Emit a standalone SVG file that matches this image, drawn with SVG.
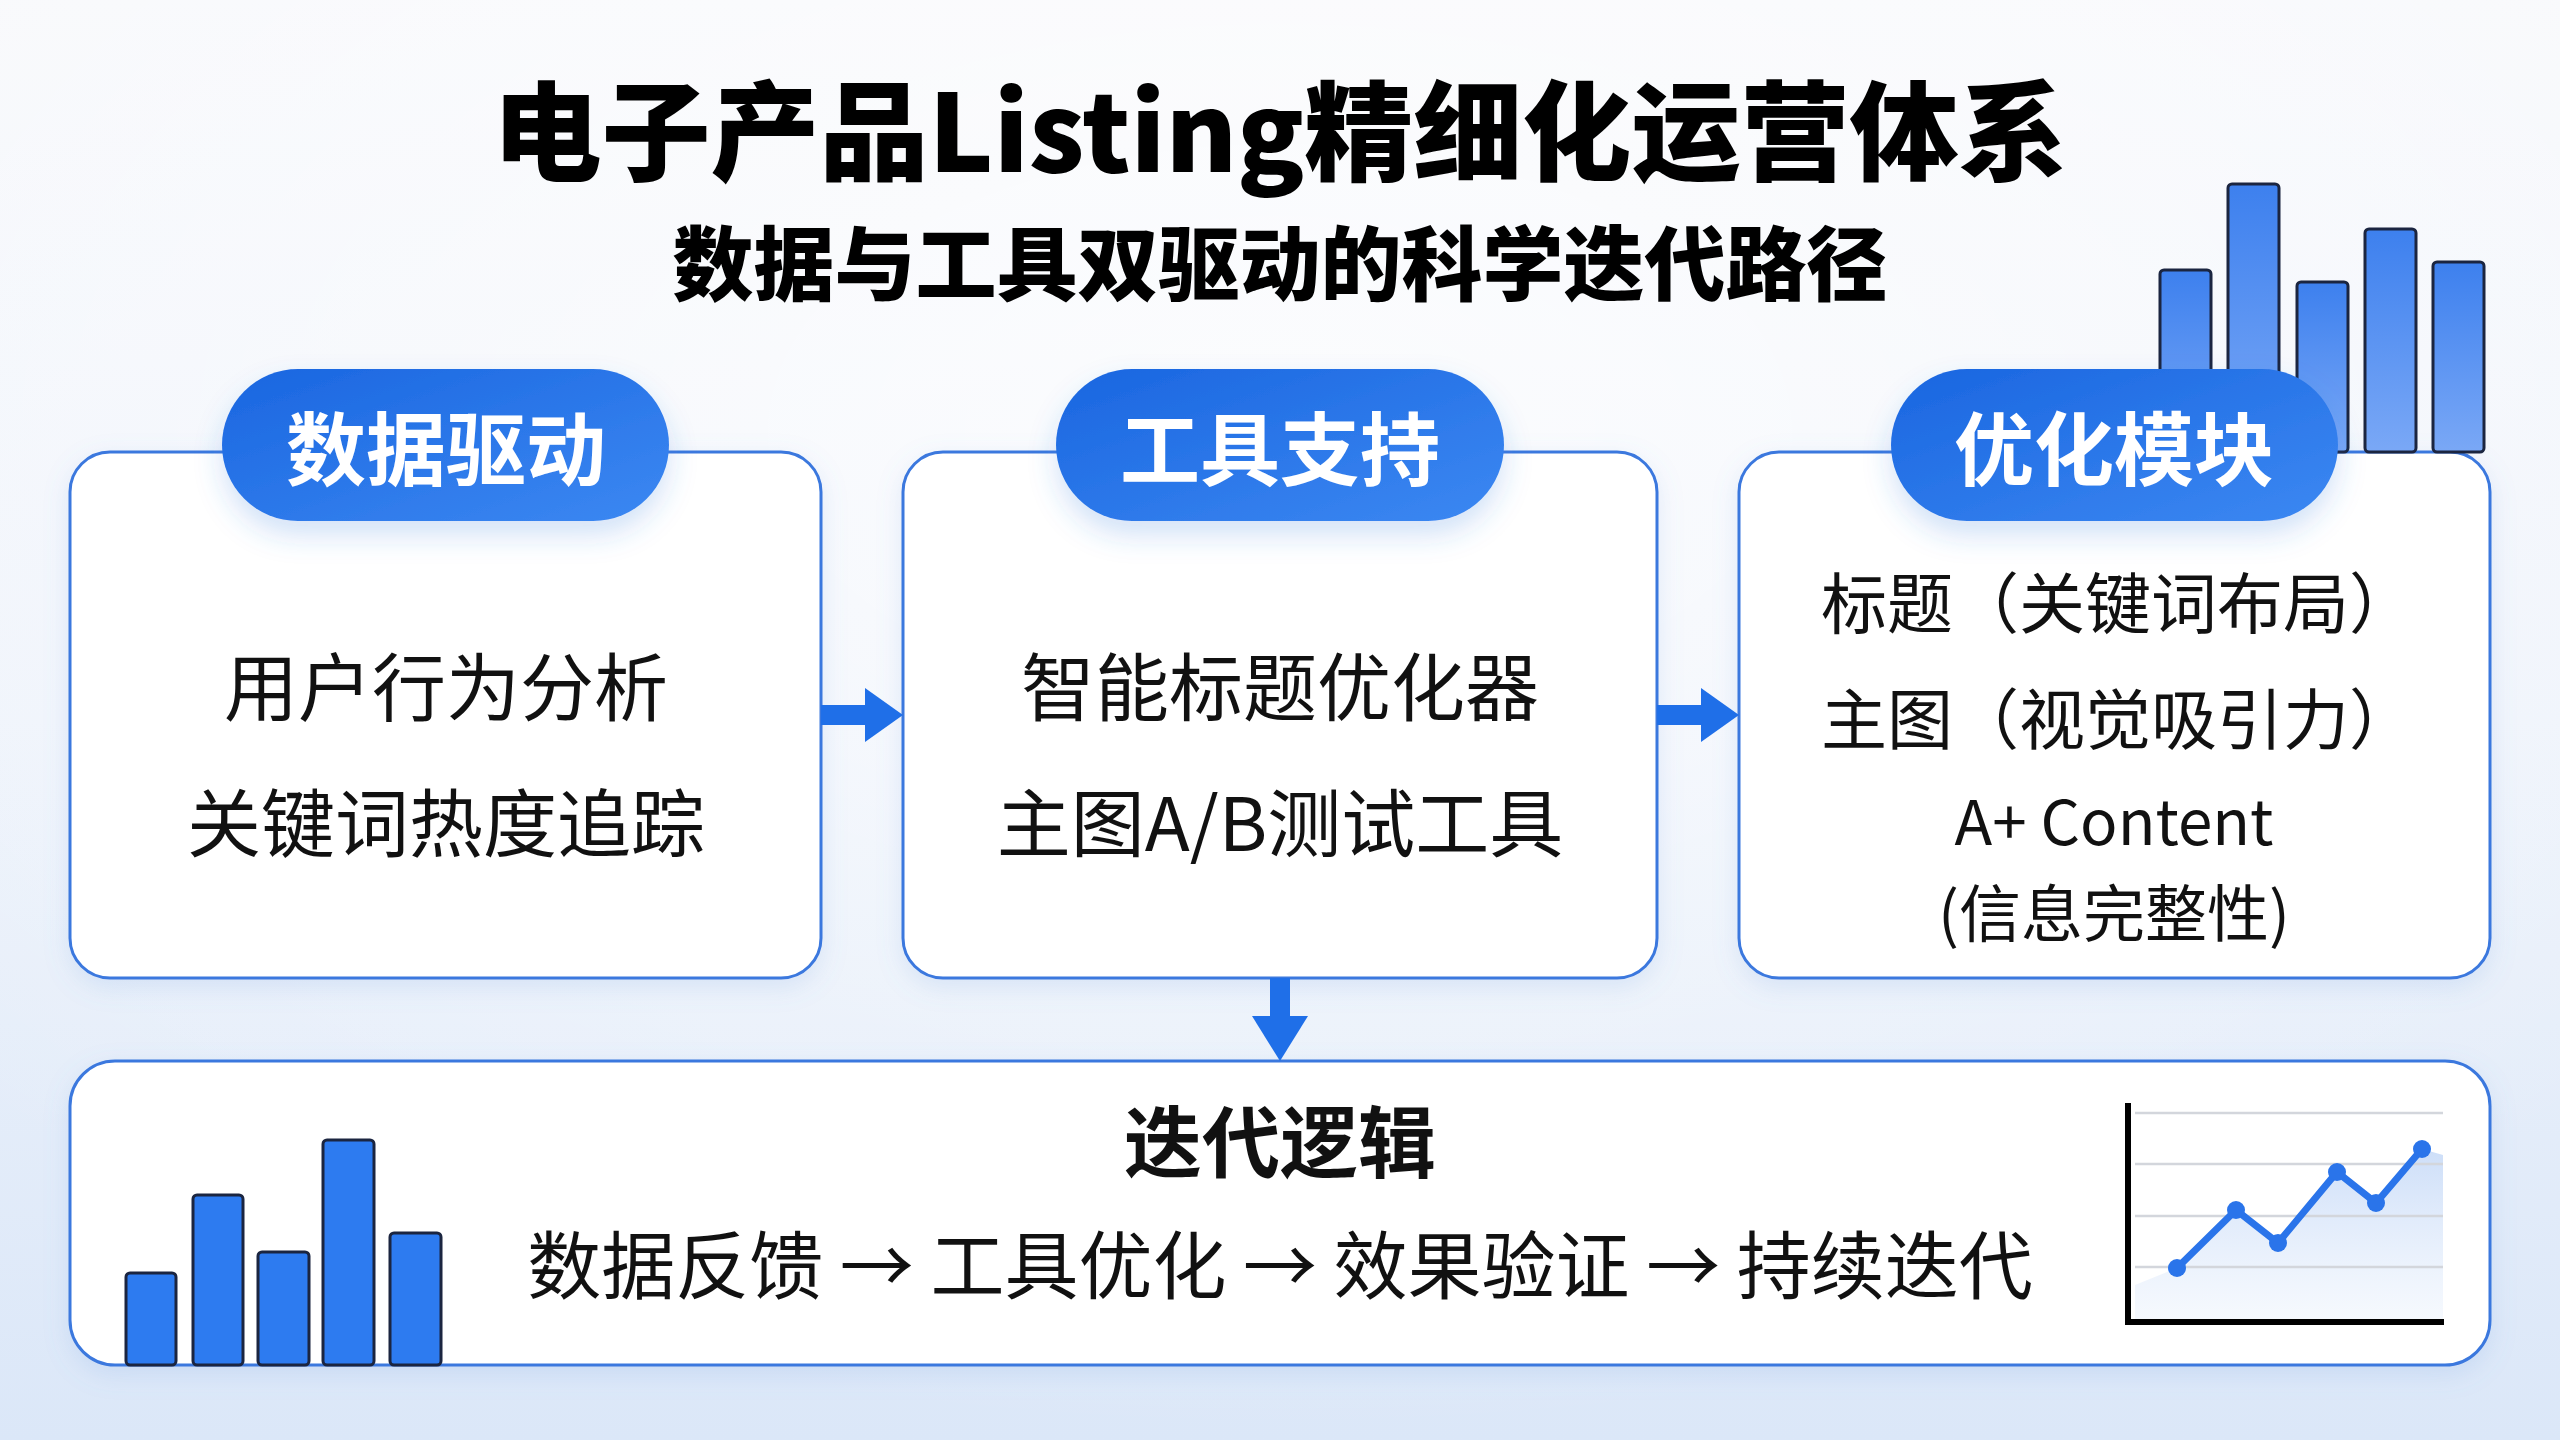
<svg xmlns="http://www.w3.org/2000/svg" width="2560" height="1440" viewBox="0 0 2560 1440">
<defs>
  <linearGradient id="bg" x1="0" y1="0" x2="0" y2="1">
    <stop offset="0" stop-color="#f8f9fc"/>
    <stop offset="0.5" stop-color="#eef3fb"/>
    <stop offset="1" stop-color="#dbe7f8"/>
  </linearGradient>
  <radialGradient id="bgGlow" cx="0.5" cy="0.3" r="0.7">
    <stop offset="0" stop-color="#ffffff" stop-opacity="0.7"/>
    <stop offset="1" stop-color="#ffffff" stop-opacity="0"/>
  </radialGradient>
  <linearGradient id="pillGrad" x1="0" y1="0" x2="1" y2="1">
    <stop offset="0" stop-color="#1a66e0"/>
    <stop offset="1" stop-color="#3c88f2"/>
  </linearGradient>
  <linearGradient id="barGrad" x1="0" y1="0" x2="0" y2="1">
    <stop offset="0" stop-color="#3d80ee"/>
    <stop offset="1" stop-color="#7aa8f6"/>
  </linearGradient>
  <linearGradient id="areaGrad" x1="0" y1="0" x2="0" y2="1">
    <stop offset="0" stop-color="#bcd3f6" stop-opacity="0.75"/>
    <stop offset="1" stop-color="#e8f0fc" stop-opacity="0.4"/>
  </linearGradient>
  <linearGradient id="bottomGrad" x1="0" y1="0" x2="1" y2="0">
    <stop offset="0" stop-color="#ffffff"/>
    <stop offset="1" stop-color="#f9fbff"/>
  </linearGradient>
  <filter id="boxShadow" x="-10%" y="-10%" width="120%" height="130%">
    <feDropShadow dx="0" dy="8" stdDeviation="12" flood-color="#6f9ae0" flood-opacity="0.18"/>
  </filter>
  <filter id="pillShadow" x="-20%" y="-30%" width="140%" height="190%">
    <feDropShadow dx="0" dy="14" stdDeviation="14" flood-color="#3b7ddd" flood-opacity="0.22"/>
  </filter>
  <style>
    .box { fill: #ffffff; stroke: #3b78de; stroke-width: 3; }
    .pill { fill: url(#pillGrad); }
    .pilltxt { font-family: "Noto Sans CJK SC", "Noto Sans", sans-serif; font-weight: 700; font-size: 80px; fill: #ffffff; text-anchor: middle; dominant-baseline: central; }
    .body { font-family: "Noto Sans CJK SC", "Noto Sans", sans-serif; font-weight: 400; fill: #111111; text-anchor: middle; dominant-baseline: central; }
    .t74 { font-size: 74px; }
    .t66 { font-size: 66px; }
    .t62 { font-size: 62px; }
    .bar { fill: url(#barGrad); stroke: #1b2540; stroke-width: 3; }
    .bar2 { fill: #2d7bf0; stroke: #1b2540; stroke-width: 3; }
    .arrow { fill: #1f6fe8; }
    .grid { stroke: #d3d6dc; stroke-width: 2.5; }
    .dot { fill: #2a74ea; }
  </style>
</defs>

<rect x="0" y="0" width="2560" height="1440" fill="url(#bg)"/>
<rect x="0" y="0" width="2560" height="1440" fill="url(#bgGlow)"/>

<g id="title">
  <text x="1280" y="125" font-family="'Noto Sans CJK SC', 'Noto Sans', sans-serif" font-weight="900" font-size="108" fill="#000000" text-anchor="middle" dominant-baseline="central" textLength="1575" lengthAdjust="spacingAndGlyphs">电子产品Listing精细化运营体系</text>
  <text x="1280" y="258" font-family="'Noto Sans CJK SC', 'Noto Sans', sans-serif" font-weight="900" font-size="81" fill="#000000" text-anchor="middle" dominant-baseline="central">数据与工具双驱动的科学迭代路径</text>
</g>

<g id="node-data-driven">
  <rect class="box" x="70" y="452" width="751" height="526" rx="40" filter="url(#boxShadow)"/>
  <rect class="pill" x="222" y="369" width="447" height="152" rx="76" filter="url(#pillShadow)"/>
  <text class="pilltxt" x="446" y="444">数据驱动</text>
  <text class="body t74" x="446" y="682">用户行为分析</text>
  <text class="body t74" x="446" y="818">关键词热度追踪</text>
</g>

<g id="node-tool-support">
  <rect class="box" x="903" y="452" width="754" height="526" rx="40" filter="url(#boxShadow)"/>
  <rect class="pill" x="1056" y="369" width="448" height="152" rx="76" filter="url(#pillShadow)"/>
  <text class="pilltxt" x="1280" y="444">工具支持</text>
  <text class="body t74" x="1280" y="682">智能标题优化器</text>
  <text class="body t74" x="1280" y="818">主图A/B测试工具</text>
</g>

<g id="node-optimization">
  <rect class="box" x="1739" y="452" width="751" height="526" rx="40" filter="url(#boxShadow)"/>
  <g id="bars-top-right">
    <rect class="bar" x="2160" y="270" width="51" height="182" rx="4"/>
    <rect class="bar" x="2228" y="184" width="51" height="268" rx="4"/>
    <rect class="bar" x="2297" y="282" width="51" height="170" rx="4"/>
    <rect class="bar" x="2365" y="229" width="51" height="223" rx="4"/>
    <rect class="bar" x="2433" y="262" width="51" height="190" rx="4"/>
  </g>
  <rect class="pill" x="1891" y="369" width="447" height="152" rx="76" filter="url(#pillShadow)"/>
  <text class="pilltxt" x="2114" y="444">优化模块</text>
  <text class="body t66" x="2118" y="599">标题（关键词布局）</text>
  <text class="body t66" x="2118" y="715">主图（视觉吸引力）</text>
  <text class="body t62" x="2114" y="818">A+ Content</text>
  <text class="body t62" x="2114" y="910">(信息完整性)</text>
</g>

<g id="node-iteration">
  <rect class="box" x="70" y="1061" width="2420" height="304" rx="45" fill="url(#bottomGrad)" filter="url(#boxShadow)"/>
  <text x="1280" y="1138" font-family="'Noto Sans CJK SC', 'Noto Sans', sans-serif" font-weight="700" font-size="78" fill="#111111" text-anchor="middle" dominant-baseline="central">迭代逻辑</text>
  <text class="body t74" x="1280" y="1260">数据反馈 → 工具优化 → 效果验证 → 持续迭代</text>
  <g id="bars-bottom-left">
    <rect class="bar2" x="126" y="1273" width="50" height="92" rx="4"/>
    <rect class="bar2" x="193" y="1195" width="50" height="170" rx="4"/>
    <rect class="bar2" x="258" y="1252" width="51" height="113" rx="4"/>
    <rect class="bar2" x="323" y="1140" width="51" height="225" rx="4"/>
    <rect class="bar2" x="390" y="1233" width="51" height="132" rx="4"/>
  </g>
  <g id="line-chart">
    <polygon points="2135,1285 2177,1268 2236,1210 2278,1243 2337,1172 2376,1203 2422,1149 2443,1155 2443,1322 2135,1322" fill="url(#areaGrad)"/>
    <line class="grid" x1="2135" y1="1113" x2="2443" y2="1113"/>
    <line class="grid" x1="2135" y1="1164" x2="2443" y2="1164"/>
    <line class="grid" x1="2135" y1="1216" x2="2443" y2="1216"/>
    <line class="grid" x1="2135" y1="1267" x2="2443" y2="1267"/>
    <polyline points="2177,1268 2236,1210 2278,1243 2337,1172 2376,1203 2422,1149" fill="none" stroke="#2a74ea" stroke-width="7" stroke-linejoin="round" stroke-linecap="round"/>
    <circle class="dot" cx="2177" cy="1268" r="9"/>
    <circle class="dot" cx="2236" cy="1210" r="9"/>
    <circle class="dot" cx="2278" cy="1243" r="9"/>
    <circle class="dot" cx="2337" cy="1172" r="9"/>
    <circle class="dot" cx="2376" cy="1203" r="9"/>
    <circle class="dot" cx="2422" cy="1149" r="9"/>
    <path d="M2128,1103 V1322 H2444" fill="none" stroke="#000000" stroke-width="6"/>
  </g>
</g>

<g id="connectors">
  <g id="arrow-1-2">
    <rect class="arrow" x="821" y="705" width="46" height="20"/>
    <polygon class="arrow" points="865,688 903,715 865,742"/>
  </g>
  <g id="arrow-2-3">
    <rect class="arrow" x="1657" y="705" width="46" height="20"/>
    <polygon class="arrow" points="1701,688 1739,715 1701,742"/>
  </g>
  <g id="arrow-2-bottom">
    <rect class="arrow" x="1270" y="978" width="20" height="40"/>
    <polygon class="arrow" points="1252,1016 1308,1016 1280,1061"/>
  </g>
</g>
</svg>
